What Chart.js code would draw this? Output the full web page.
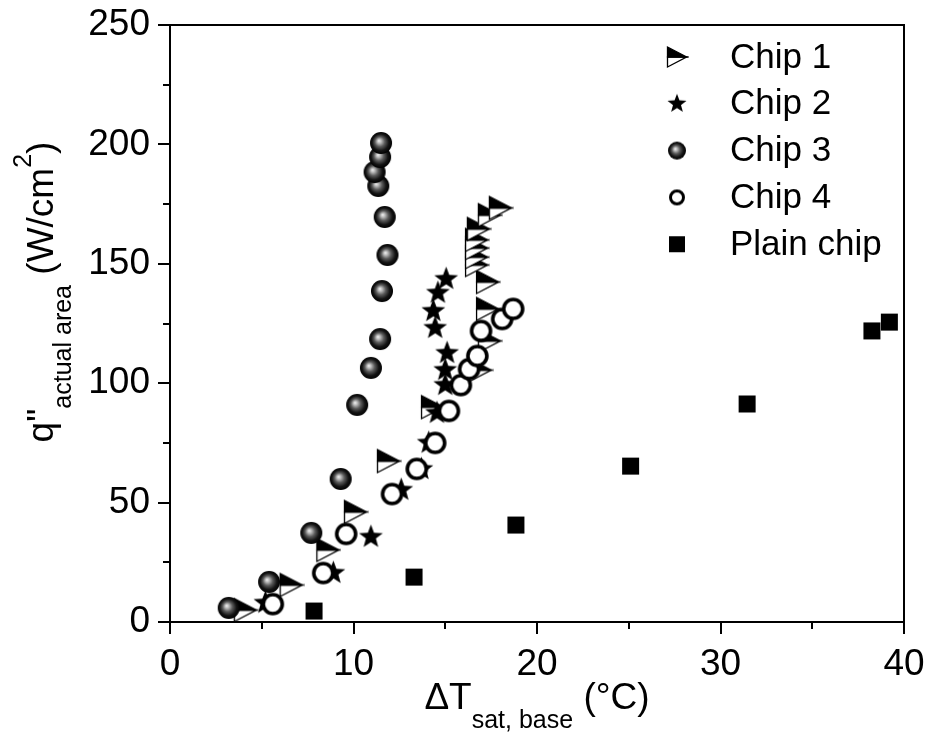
<!DOCTYPE html>
<html>
<head>
<meta charset="utf-8">
<script src="https://cdn.jsdelivr.net/npm/chart.js@4"></script>
<style>
  html, body { margin: 0; padding: 0; background: #fff; }
  #wrap { width: 928px; height: 740px; }
</style>
</head>
<body>
<div id="wrap"><canvas id="chart" width="928" height="740"></canvas></div>
<script>
// superheat at the base (°C) and heat flux on the actual area (W/cm2)
const chip1T = [4.1, 6.6, 8.6, 10.1, 11.9, 14.3, 16.9, 17.4, 17.3, 17.3, 16.7, 16.7, 16.7, 16.7, 16.8, 17.4, 18.0];
const chip1Q = [5.0, 15.5, 30.2, 46.1, 67.4, 90.0, 105.5, 117.7, 131.1, 142.4, 149.5, 152.8, 156.6, 160.0, 164.6, 170.4, 173.4];

const chip2T = [5.2, 8.9, 10.95, 12.6, 13.7, 14.1, 14.55, 15.0, 15.0, 15.1, 14.45, 14.35, 14.6, 15.05];
const chip2Q = [8.0, 20.5, 35.6, 55.3, 64.0, 75.0, 87.5, 99.2, 105.5, 112.6, 123.1, 130.2, 137.8, 143.6];

const chip3T = [3.2, 5.4, 7.7, 9.3, 10.2, 10.95, 11.45, 11.55, 11.85, 11.7, 11.35, 11.15, 11.45, 11.5];
const chip3Q = [5.9, 16.8, 37.3, 59.9, 90.9, 106.4, 118.5, 138.6, 153.7, 169.6, 182.6, 188.4, 194.7, 200.6];

const chip4T = [5.6, 8.35, 9.6, 12.1, 13.45, 14.45, 15.2, 15.85, 16.3, 16.75, 16.95, 18.1, 18.7];
const chip4Q = [7.5, 20.5, 36.9, 53.6, 64.1, 75.0, 88.4, 99.2, 105.9, 111.4, 121.9, 126.9, 131.1];

const plainT = [7.85, 13.3, 18.85, 25.1, 31.45, 38.25, 39.2];
const plainQ = [4.6, 18.8, 40.6, 65.3, 91.3, 121.9, 125.6];

const seriesNames = ['Chip 1', 'Chip 2', 'Chip 3', 'Chip 4', 'Plain chip'];
const xTicks = [0, 10, 20, 30, 40];
const yTicks = [0, 50, 100, 150, 200, 250];

const FONT = "'Liberation Sans', Arial, sans-serif";

// ---- marker sprites ----
function sprite(size, draw) {
    const c = document.createElement('canvas');
    c.width = size; c.height = size;
    const g = c.getContext('2d');
    g.translate(size / 2, size / 2);
    draw(g);
    return c;
}

function halfTriangle(s) {
    // right pointing triangle, upper half black, lower half white
    return sprite(s + 4, g => {
        const h = s / 2, w = s * 0.95;
        const l = -w / 2, r = w / 2;
        g.lineWidth = 1.3;
        g.strokeStyle = '#000';
        g.beginPath();
        g.moveTo(l, 0); g.lineTo(r, 0); g.lineTo(l, h); g.closePath();
        g.fillStyle = '#fff'; g.fill(); g.stroke();
        g.beginPath();
        g.moveTo(l, -h); g.lineTo(r, 0); g.lineTo(l, 0); g.closePath();
        g.fillStyle = '#000'; g.fill(); g.stroke();
    });
}

function star(rOut) {
    return sprite(Math.ceil(rOut * 2 + 4), g => {
        const rIn = rOut * 0.42;
        g.beginPath();
        for (let i = 0; i < 10; i++) {
            const r = i % 2 ? rIn : rOut;
            const a = -Math.PI / 2 + i * Math.PI / 5;
            g.lineTo(r * Math.cos(a), r * Math.sin(a));
        }
        g.closePath();
        g.fillStyle = '#000';
        g.fill();
    });
}

function sphere(r) {
    return sprite(Math.ceil(r * 2 + 4), g => {
        const grad = g.createRadialGradient(-r * 0.2, -r * 0.2, 0, 0, 0, r);
        grad.addColorStop(0, '#f4f4f4');
        grad.addColorStop(0.18, '#bdbdbd');
        grad.addColorStop(0.45, '#5a5a5a');
        grad.addColorStop(0.75, '#151515');
        grad.addColorStop(1, '#000');
        g.beginPath();
        g.arc(0, 0, r, 0, Math.PI * 2);
        g.fillStyle = grad;
        g.fill();
    });
}

function ring(r, lw) {
    return sprite(Math.ceil(r * 2 + lw + 4), g => {
        g.beginPath();
        g.arc(0, 0, r, 0, Math.PI * 2);
        g.fillStyle = '#fff';
        g.fill();
        g.lineWidth = lw;
        g.strokeStyle = '#000';
        g.stroke();
    });
}

function square(s) {
    return sprite(s + 2, g => {
        g.fillStyle = '#000';
        g.fillRect(-s / 2, -s / 2, s, s);
    });
}

const plotMarks = [halfTriangle(23), star(12.5), sphere(11), ring(9.5, 3.6), square(17)];
const legendMarks = [halfTriangle(20), star(10), sphere(9), ring(6.5, 3), square(16)];

function pts(xs, ys) {
    return xs.map((x, i) => ({ x: x, y: ys[i] }));
}

// ---- frame, minor ticks, axis titles, legend ----
const decor = {
    id: 'decor',
    afterDraw(chart) {
        const ctx = chart.ctx;
        const a = chart.chartArea;
        const xs = chart.scales.x, ys = chart.scales.y;
        ctx.save();
        ctx.strokeStyle = '#000';
        ctx.lineWidth = 2;
        ctx.strokeRect(a.left, a.top, a.right - a.left, a.bottom - a.top);

        ctx.beginPath();
        for (let v = 0; v <= 40; v += 5) {
            const px = Math.round(xs.getPixelForValue(v));
            const len = v % 10 === 0 ? 12 : 7;
            ctx.moveTo(px, a.bottom); ctx.lineTo(px, a.bottom + len);
        }
        for (let v = 0; v <= 250; v += 25) {
            const py = Math.round(ys.getPixelForValue(v));
            const len = v % 50 === 0 ? 12 : 7;
            ctx.moveTo(a.left, py); ctx.lineTo(a.left - len, py);
        }
        ctx.stroke();

        // x title: ΔT sat, base (°C)
        ctx.fillStyle = '#000';
        ctx.textBaseline = 'alphabetic';
        ctx.textAlign = 'left';
        const big = '37px ' + FONT, small = '25px ' + FONT;
        let parts = [['\u0394T', big, 0], ['sat, base', small, 19], [' (\u00b0C)', big, 0]];
        drawRun(ctx, parts, (a.left + a.right) / 2, 709);

        // y title: q" actual area (W/cm2)
        ctx.save();
        ctx.translate(53, 292);
        ctx.rotate(-Math.PI / 2);
        parts = [['q"', big, 0], ['actual area', small, 18], [' (W/cm', big, 0], ['2', small, -22], [')', big, 0]];
        drawRun(ctx, parts, 0, 0);
        ctx.restore();

        // legend
        ctx.font = '35px ' + FONT;
        ctx.textBaseline = 'middle';
        seriesNames.forEach((name, i) => {
            const cy = 57 + i * 46.8;
            const m = legendMarks[i];
            ctx.drawImage(m, 677 - m.width / 2, cy - m.height / 2);
            ctx.fillText(name, 730, cy + 1);
        });
        ctx.restore();
    }
};

function drawRun(ctx, parts, cx, baseY) {
    let total = 0;
    parts.forEach(p => { ctx.font = p[1]; total += ctx.measureText(p[0]).width; });
    let x = cx - total / 2;
    parts.forEach(p => {
        ctx.font = p[1];
        ctx.fillText(p[0], x, baseY + p[2]);
        x += ctx.measureText(p[0]).width;
    });
}

const datasets = [
    { label: seriesNames[0], data: pts(chip1T, chip1Q), pointStyle: plotMarks[0], order: 5 },
    { label: seriesNames[1], data: pts(chip2T, chip2Q), pointStyle: plotMarks[1], order: 4 },
    { label: seriesNames[2], data: pts(chip3T, chip3Q), pointStyle: plotMarks[2], order: 3 },
    { label: seriesNames[3], data: pts(chip4T, chip4Q), pointStyle: plotMarks[3], order: 2 },
    { label: seriesNames[4], data: pts(plainT, plainQ), pointStyle: plotMarks[4], order: 1 }
].map(d => Object.assign(d, { pointRadius: 10, showLine: false, clip: false }));

const tickFont = { family: FONT, size: 37 };

new Chart(document.getElementById('chart'), {
    type: 'scatter',
    data: { datasets: datasets },
    options: {
        responsive: false,
        animation: false,
        layout: { padding: { top: 25, right: 24, left: 0, bottom: 0 } },
        plugins: { legend: { display: false }, tooltip: { enabled: false } },
        scales: {
            x: {
                type: 'linear', min: 0, max: 40,
                afterBuildTicks: s => { s.ticks = xTicks.map(v => ({ value: v })); },
                afterFit: s => { s.height = 118; s.paddingLeft = 0; s.paddingRight = 0; },
                grid: { display: false, drawTicks: false },
                border: { display: false },
                ticks: { color: '#000', font: tickFont, padding: 21, maxRotation: 0 }
            },
            y: {
                type: 'linear', min: 0, max: 250,
                afterBuildTicks: s => { s.ticks = yTicks.map(v => ({ value: v })); },
                afterFit: s => { s.width = 170; s.paddingTop = 0; s.paddingBottom = 0; },
                grid: { display: false, drawTicks: false },
                border: { display: false },
                ticks: { color: '#000', font: tickFont, padding: 20 }
            }
        }
    },
    plugins: [decor]
});
</script>
</body>
</html>
